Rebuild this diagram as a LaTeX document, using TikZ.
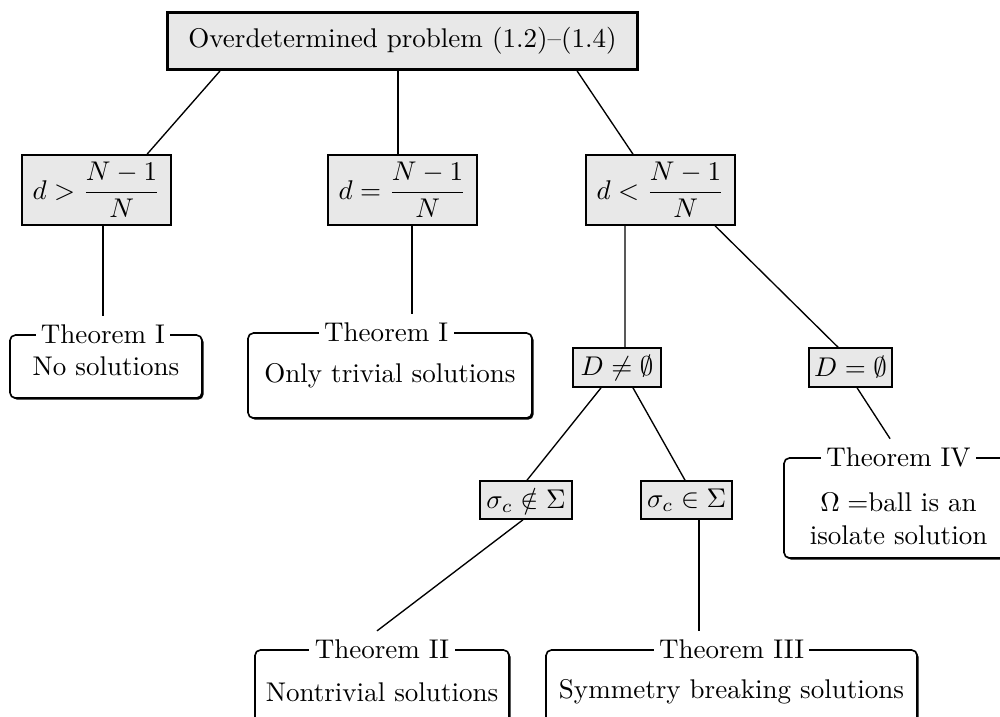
\documentclass[tikz,border=0pt]{standalone}
\usepackage{amsmath}
\usetikzlibrary{shadows}

\begin{document}
\begin{tikzpicture}[line width=0.5pt,
  kasten/.style={draw,fill=black!9,line width=0.6pt,inner sep=1pt},
  satz/.style={draw,fill=white,rounded corners=2pt,line width=0.6pt,align=center,
    drop shadow={shadow xshift=0.6pt,shadow yshift=-0.6pt,opacity=1,fill=black}},
  titel/.style={fill=white,inner xsep=2pt,inner ysep=3pt}]

\useasboundingbox (0,0) rectangle (13,-9.308);

% Ausgangsproblem
\node[kasten,line width=1.1pt,minimum width=6.12cm,minimum height=0.74cm] (problem) at (5.233,-0.533) {Overdetermined problem (1.2)--(1.4)};

% Fallunterscheidung nach d
\node[kasten,minimum width=1.94cm,minimum height=0.91cm] (dgr) at (1.255,-2.47) {$d>\dfrac{N-1}{N}$};
\node[kasten,minimum width=1.94cm,minimum height=0.91cm] (dgl) at (5.233,-2.47) {$d=\dfrac{N-1}{N}$};
\node[kasten,minimum width=1.94cm,minimum height=0.91cm] (dkl) at (8.587,-2.47) {$d<\dfrac{N-1}{N}$};

% Menge D
\node[kasten,minimum width=1.144cm,minimum height=0.507cm] (Dvoll) at (8.021,-4.778) {$D\neq\emptyset$};
\node[kasten,minimum width=1.079cm,minimum height=0.507cm] (Dleer) at (11.057,-4.778) {$D=\emptyset$};

% sigma_c
\node[kasten,minimum width=1.196cm,minimum height=0.494cm] (snicht) at (6.838,-6.5) {$\sigma_c\notin\Sigma$};
\node[kasten,minimum width=1.183cm,minimum height=0.494cm] (sin) at (8.925,-6.5) {$\sigma_c\in\Sigma$};

% Saetze
\node[satz,minimum width=2.496cm,minimum height=0.819cm] (satzIa) at (1.378,-4.765) {No solutions};
\node[titel] (titIa) at ([xshift=-0.04cm]satzIa.north) {Theorem I};

\node[satz,minimum width=3.692cm,minimum height=1.105cm] (satzIb) at (5.07,-4.882) {Only trivial solutions};
\node[titel] (titIb) at ([xshift=-0.05cm]satzIb.north) {Theorem I};

\node[satz,minimum width=2.977cm,minimum height=1.3cm] (satzIV) at (11.681,-6.604) {};
\node[align=center] (textIV) at ([yshift=-0.14cm]satzIV.center) {$\Omega=$ball is an\\isolate solution};
\node[titel] (titIV) at (satzIV.north) {Theorem IV};

\node[satz,minimum width=3.302cm,minimum height=1.092cm] (satzII) at (4.966,-8.996) {Nontrivial solutions};
\node[titel] (titII) at (satzII.north) {Theorem II};

\node[satz,minimum width=4.823cm,minimum height=1.092cm] (satzIII) at (9.51,-8.996) {Symmetry breaking solutions};
\node[titel] (titIII) at (satzIII.north) {Theorem III};

% Verbindungen
\draw ([xshift=-2.373cm]problem.south) -- ([xshift=0.657cm]dgr.north);
\draw ([xshift=-0.059cm]problem.south) -- ([xshift=-0.059cm]dgl.north);
\draw ([xshift=2.269cm]problem.south) -- ([xshift=-0.358cm]dkl.north);

\draw (titIa.north |- dgr.south) -- (titIa.north);
\draw ([xshift=0.124cm]dgl.south) -- ([xshift=0.124cm]dgl.south |- titIb.north);
\draw ([xshift=-0.4615cm]dkl.south) -- ([xshift=0.104cm]Dvoll.north);
\draw ([xshift=0.7085cm]dkl.south) -- ([xshift=-0.1625cm]Dleer.north);

\draw ([xshift=-0.208cm]Dvoll.south) -- ([xshift=0.013cm]snicht.north);
\draw ([xshift=0.208cm]Dvoll.south) -- ([xshift=-0.02cm]sin.north);
\draw ([xshift=0.085cm]Dleer.south) -- ([xshift=-0.11cm]titIV.north);

\draw ([xshift=-0.04cm]snicht.south) -- ([xshift=-0.065cm]titII.north);
\draw ([xshift=0.1625cm]sin.south) -- ([xshift=0.1625cm]sin.south |- titIII.north);

\end{tikzpicture}
\end{document}
